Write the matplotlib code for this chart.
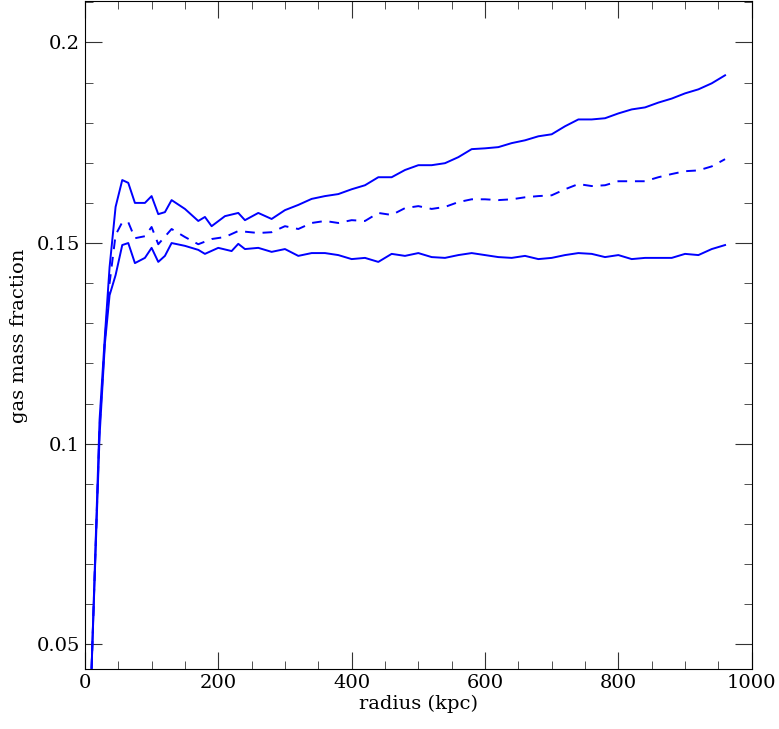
import matplotlib
matplotlib.use("Agg")
import matplotlib.pyplot as plt
from matplotlib.ticker import MultipleLocator

r_up = [10,22,30,37,46,56,65,75,90,100,110,120,130,150,170,180,190,210,230,240,260,280,300,320,340,360,380,400,420,440,460,480,500,520,540,560,580,600,620,640,660,680,700,720,740,760,780,800,820,840,860,880,900,920,940,960]
f_up = [0.044,0.106,0.127,0.144,0.159,0.1657,0.1650,0.1600,0.1600,0.1617,0.1572,0.1577,0.1607,0.1585,0.1555,0.1565,0.1542,0.1567,0.1575,0.1557,0.1575,0.1560,0.1582,0.1595,0.1610,0.1617,0.1622,0.1634,0.1644,0.1664,0.1664,0.1682,0.1694,0.1694,0.1699,0.1714,0.1734,0.1736,0.1739,0.1749,0.1756,0.1766,0.1771,0.1791,0.1808,0.1808,0.1811,0.1823,0.1833,0.1838,0.1850,0.1860,0.1873,0.1883,0.1898,0.1918]

r_mid = [10,22,30,37,46,56,65,75,90,100,110,130,150,170,190,210,230,260,280,300,320,340,360,380,400,420,440,460,480,500,520,540,560,580,600,620,640,660,680,700,720,740,760,780,800,820,840,860,880,900,920,940,960]
f_mid = [0.044,0.104,0.126,0.140,0.152,0.1552,0.1552,0.1512,0.1517,0.1540,0.1497,0.1535,0.1515,0.1497,0.1510,0.1515,0.1530,0.1525,0.1527,0.1542,0.1535,0.1550,0.1555,0.1550,0.1557,0.1555,0.1575,0.1570,0.1587,0.1592,0.1585,0.1590,0.1602,0.1609,0.1609,0.1607,0.1609,0.1614,0.1617,0.1619,0.1634,0.1647,0.1642,0.1644,0.1654,0.1654,0.1654,0.1664,0.1672,0.1679,0.1681,0.1691,0.1709]

r_lo = [10,22,30,37,46,56,65,75,90,100,110,120,130,150,170,180,200,220,230,240,260,280,300,320,340,360,380,400,420,440,460,480,500,520,540,560,580,600,620,640,660,680,700,720,740,760,780,800,820,840,860,880,900,920,940,960]
f_lo = [0.044,0.102,0.125,0.137,0.142,0.1495,0.1500,0.1450,0.1463,0.1488,0.1453,0.1468,0.1500,0.1493,0.1483,0.1473,0.1488,0.1480,0.1498,0.1485,0.1488,0.1478,0.1485,0.1468,0.1475,0.1475,0.1470,0.1460,0.1463,0.1453,0.1473,0.1468,0.1475,0.1465,0.1463,0.1470,0.1475,0.1470,0.1465,0.1463,0.1468,0.1460,0.1463,0.1470,0.1475,0.1473,0.1465,0.1470,0.1460,0.1463,0.1463,0.1463,0.1473,0.1470,0.1485,0.1495]

plt.rcParams['font.family'] = 'DejaVu Serif'
fig = plt.figure(figsize=(7.79, 7.29), dpi=100)
ax = fig.add_axes([0.109, 0.082, 0.856, 0.916])

ax.plot(r_up, f_up, color='blue', lw=1.4)
ax.plot(r_mid, f_mid, color='blue', lw=1.4, ls=(0, (5, 4)))
ax.plot(r_lo, f_lo, color='blue', lw=1.4)

ax.set_xlim(0, 1000)
ax.set_ylim(0.0438, 0.2102)
ax.xaxis.set_major_locator(MultipleLocator(200))
ax.xaxis.set_minor_locator(MultipleLocator(50))
ax.yaxis.set_major_locator(MultipleLocator(0.05))
ax.yaxis.set_minor_locator(MultipleLocator(0.01))
ax.set_yticks([0.05, 0.1, 0.15, 0.2])
ax.set_yticklabels(['0.05', '0.1', '0.15', '0.2'])
ax.tick_params(which='both', direction='in', top=True, right=True, labelsize=14, color='#333333')
ax.tick_params(which='major', length=12)
ax.tick_params(which='minor', length=6)
ax.set_xlabel('radius (kpc)', fontsize=14, labelpad=2)
ax.set_ylabel('gas mass fraction', fontsize=14, labelpad=6)
for s in ax.spines.values():
    s.set_linewidth(0.8)

fig.savefig('out.png', dpi=100)
